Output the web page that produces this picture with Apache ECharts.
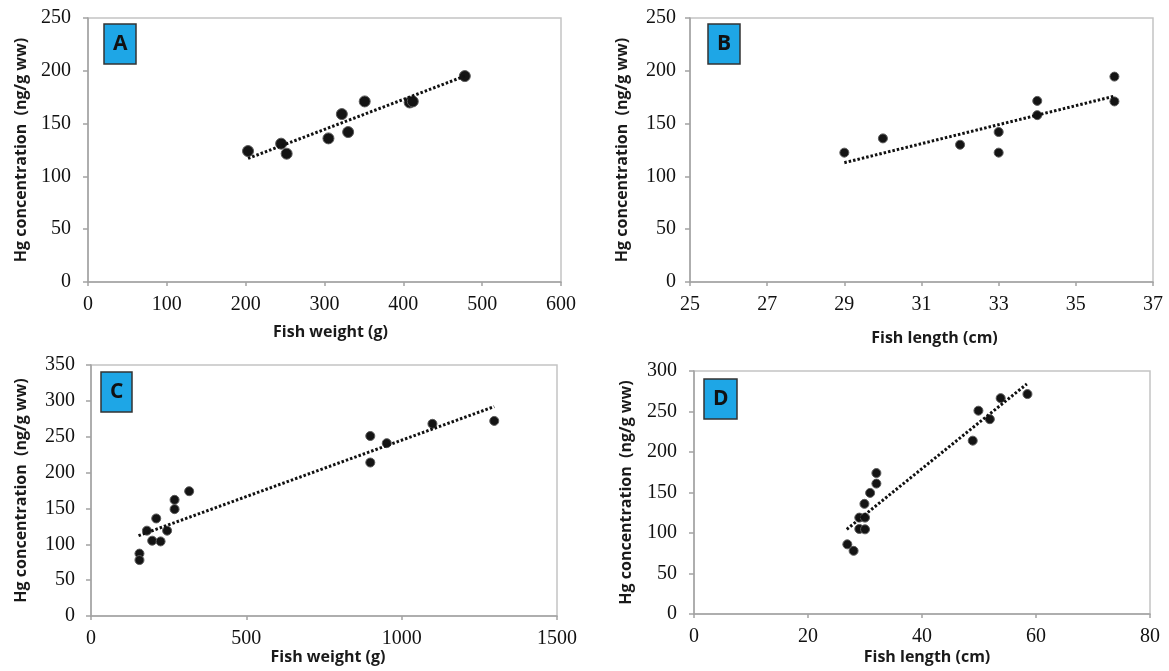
<!DOCTYPE html>
<html>
<head>
<meta charset="utf-8">
<script src="https://cdn.jsdelivr.net/npm/echarts@6/dist/echarts.min.js"></script>
<style>
  html, body { margin: 0; padding: 0; background: #fff; }
  #main { width: 1169px; height: 671px; }
</style>
</head>
<body>
<div id="main"></div>
<script>
// panel A: weight vs Hg
var weightA = [203, 245, 252, 305, 322, 330, 351, 408, 412, 478];
var hgA = [124, 131, 121.5, 136, 159, 142, 171, 170, 171, 195];
var trendXA = [203, 478];
var trendYA = [117, 195];

// panel B: length vs Hg
var lengthB = [29, 30, 32, 33, 33, 34, 34, 36, 36];
var hgB = [122.5, 136, 130, 142, 122.5, 171.5, 158, 194.5, 171];
var trendXB = [29, 36];
var trendYB = [113, 176];

// panel C: weight vs Hg
var weightC = [156, 156, 180, 197, 210, 224, 245, 269, 269, 316, 899, 899, 952, 1099, 1298];
var hgC = [87, 78, 119, 105, 136, 104, 119, 162, 149, 174, 251, 214, 241, 268, 272];
var trendXC = [153, 1298];
var trendYC = [112, 292];

// panel D: length vs Hg
var lengthD = [26.9, 28, 29, 29, 30, 30, 29.9, 30.9, 32, 32, 48.9, 49.9, 51.9, 53.8, 58.5];
var hgD = [86, 78, 105, 119, 104.5, 119, 136, 149.5, 161, 174, 214, 251, 240.5, 266.5, 271.5];
var trendXD = [26.8, 58.4];
var trendYD = [104.5, 284];

var panelLetters = ['A', 'B', 'C', 'D'];
var yTitle = 'Hg concentration  (ng/g ww)';
var xTitles = ['Fish weight (g)', 'Fish length (cm)', 'Fish weight (g)', 'Fish length (cm)'];

function pairs(xs, ys) {
  return xs.map(function (x, i) { return [x, ys[i]]; });
}

var chart = echarts.init(document.getElementById('main'));

var grids = [
  { left: 88, top: 18, width: 473, height: 264 },
  { left: 690, top: 18, width: 463, height: 264 },
  { left: 91, top: 365, width: 466, height: 251 },
  { left: 694, top: 371, width: 456, height: 243 }
];
grids.forEach(function (g) {
  g.show = true;
  g.borderColor = '#c4c4c4';
  g.borderWidth = 1.5;
});

var serif = "'Liberation Serif', 'Times New Roman', 'DejaVu Serif', serif";
var axisLine = { lineStyle: { color: '#a2a2a2', width: 1.5 } };
var titleFont = { fontFamily: 'Open Sans', fontWeight: 'bold', fontSize: 16, color: '#1a1a1a' };

var xRanges = [[0, 600, 100], [25, 37, 2], [0, 1500, 500], [0, 80, 20]];
var yRanges = [[0, 250, 50], [0, 250, 50], [0, 350, 50], [0, 300, 50]];
var xGaps = [42, 48, 33, 35];
var xShift = [12, 26, 8, 10];
var yGaps = [59, 60, 62, 60];
var yMargins = [17, 14, 16, 17];

function plainNum(v) { return String(v); }

var xAxes = xRanges.map(function (r, i) {
  return {
    type: 'value', gridIndex: i, min: r[0], max: r[1], interval: r[2],
    name: xTitles[i], nameLocation: 'middle', nameGap: xGaps[i],
    nameTextStyle: Object.assign({ padding: [0, 0, 0, xShift[i]] }, titleFont),
    axisLine: axisLine,
    axisTick: { show: true, length: 4, lineStyle: { color: '#a2a2a2', width: 1.5 } },
    axisLabel: { margin: 13, formatter: plainNum, fontFamily: serif, fontSize: 20, color: '#111' },
    splitLine: { show: false }
  };
});

var yAxes = yRanges.map(function (r, i) {
  return {
    type: 'value', gridIndex: i, min: r[0], max: r[1], interval: r[2],
    name: yTitle, nameLocation: 'middle', nameGap: yGaps[i], nameRotate: 90,
    nameTextStyle: titleFont,
    axisLine: Object.assign({ show: true }, axisLine),
    axisTick: { show: true, length: 5, lineStyle: { color: '#a2a2a2', width: 1.5 } },
    axisLabel: { margin: yMargins[i], formatter: plainNum, fontFamily: serif, fontSize: 20, color: '#111' },
    splitLine: { show: false }
  };
});

var boxPos = [[104, 24], [708, 24], [101, 372], [704, 379]];
var titles = panelLetters.map(function (t, i) {
  return {
    text: t, left: boxPos[i][0], top: boxPos[i][1],
    padding: [10, 9, 10, 9],
    backgroundColor: '#1ea6e6',
    borderColor: '#333',
    borderWidth: 1.5,
    textStyle: { fontFamily: 'Open Sans', fontWeight: 'bold', fontSize: 21, lineHeight: 20, color: '#111' }
  };
});

var pointSizes = [11, 9, 9, 9];
var scatterSets = [pairs(weightA, hgA), pairs(lengthB, hgB), pairs(weightC, hgC), pairs(lengthD, hgD)];
var trendSets = [pairs(trendXA, trendYA), pairs(trendXB, trendYB), pairs(trendXC, trendYC), pairs(trendXD, trendYD)];

var series = [];
trendSets.forEach(function (d, i) {
  series.push({
    type: 'line', xAxisIndex: i, yAxisIndex: i, data: d,
    symbol: 'none', silent: true,
    lineStyle: { color: '#111', width: 3, type: [2.5, 2] }
  });
});
scatterSets.forEach(function (d, i) {
  series.push({
    type: 'scatter', xAxisIndex: i, yAxisIndex: i, data: d,
    symbolSize: pointSizes[i],
    itemStyle: { color: '#141414', borderColor: '#5a5a5a', borderWidth: 1, opacity: 1 }
  });
});

chart.setOption({
  backgroundColor: '#fff',
  animation: false,
  textStyle: { fontFamily: serif },
  title: titles,
  grid: grids,
  xAxis: xAxes,
  yAxis: yAxes,
  series: series
});
</script>
</body>
</html>
